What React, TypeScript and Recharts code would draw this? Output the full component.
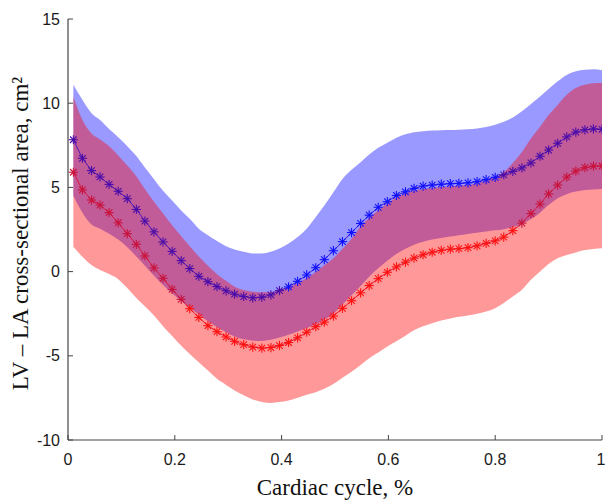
import React from 'react';
import { ComposedChart, Line, Area, XAxis, YAxis } from 'recharts';

const cycle = [0.010,0.027,0.044,0.060,0.077,0.094,0.111,0.128,0.144,0.161,0.178,0.195,0.212,0.228,0.245,0.262,0.279,0.296,0.312,0.329,0.346,0.363,0.380,0.396,0.413,0.430,0.447,0.464,0.480,0.497,0.514,0.531,0.548,0.564,0.581,0.598,0.615,0.632,0.648,0.665,0.682,0.699,0.716,0.732,0.749,0.766,0.783,0.800,0.816,0.833,0.850,0.867,0.884,0.900,0.917,0.934,0.951,0.968,0.984,1.000];

const blueMean = [7.83,6.73,6.0,5.62,5.18,4.77,4.33,3.69,3.0,2.36,1.76,1.2,0.65,0.18,-0.28,-0.6,-0.89,-1.14,-1.34,-1.48,-1.56,-1.52,-1.38,-1.13,-0.91,-0.58,-0.2,0.23,0.71,1.24,1.78,2.32,2.86,3.35,3.82,4.15,4.52,4.74,4.94,5.08,5.14,5.19,5.22,5.24,5.27,5.34,5.46,5.6,5.75,5.95,6.16,6.45,6.85,7.22,7.62,8.0,8.28,8.42,8.47,8.45];
const blueUpper = [11.1,10.2,9.4,9.0,8.47,7.98,7.45,6.86,6.18,5.49,4.8,4.22,3.63,3.14,2.55,2.16,1.82,1.51,1.31,1.18,1.08,1.08,1.18,1.37,1.67,2.06,2.55,3.24,3.92,4.71,5.5,6.05,6.5,6.95,7.35,7.65,7.95,8.15,8.28,8.34,8.38,8.4,8.41,8.43,8.45,8.5,8.58,8.72,8.9,9.15,9.52,9.95,10.4,10.85,11.3,11.68,11.89,11.98,12.01,11.96];
const blueLower = [4.5,3.5,2.8,2.55,2.25,1.9,1.45,0.9,0.35,-0.25,-0.8,-1.3,-1.75,-2.15,-2.55,-2.95,-3.3,-3.6,-3.85,-4.02,-4.1,-4.12,-4.05,-3.92,-3.75,-3.55,-3.35,-3.12,-2.85,-2.5,-1.95,-1.4,-0.85,-0.3,0.2,0.65,1.05,1.35,1.6,1.78,1.9,2.0,2.08,2.16,2.24,2.31,2.38,2.45,2.52,2.64,2.82,3.12,3.5,3.95,4.35,4.6,4.75,4.85,4.88,4.9];

const redMean = [5.90,4.85,4.25,3.95,3.50,2.90,2.25,1.62,0.93,0.22,-0.40,-1.06,-1.65,-2.20,-2.72,-3.21,-3.57,-3.88,-4.14,-4.34,-4.48,-4.54,-4.51,-4.39,-4.21,-3.93,-3.60,-3.27,-3.0,-2.64,-2.18,-1.73,-1.26,-0.83,-0.42,-0.04,0.28,0.56,0.80,1.00,1.15,1.26,1.33,1.36,1.42,1.53,1.68,1.83,2.05,2.43,2.88,3.44,4.01,4.61,5.14,5.61,5.97,6.17,6.26,6.27];
const redUpper = [10.4,9.0,8.2,7.85,7.45,6.9,6.3,5.65,4.9,4.15,3.45,2.75,2.1,1.5,0.9,0.35,-0.15,-0.55,-0.9,-1.1,-1.2,-1.22,-1.22,-1.1,-0.92,-0.68,-0.38,-0.02,0.38,0.8,1.35,1.95,2.7,3.2,3.65,4.05,4.4,4.65,4.8,4.9,4.97,5.02,5.07,5.1,5.15,5.25,5.4,5.6,5.9,6.45,7.1,7.9,8.6,9.3,9.9,10.5,10.9,11.1,11.18,11.2];
const redLower = [1.47,0.88,0.39,0.1,-0.14,-0.45,-0.98,-1.57,-2.06,-2.61,-3.24,-3.82,-4.41,-4.9,-5.39,-5.88,-6.37,-6.73,-7.06,-7.35,-7.59,-7.75,-7.8,-7.75,-7.65,-7.49,-7.31,-7.16,-6.96,-6.68,-6.3,-5.95,-5.55,-5.15,-4.8,-4.45,-4.14,-3.81,-3.49,-3.25,-3.06,-2.9,-2.78,-2.68,-2.6,-2.5,-2.37,-2.17,-1.87,-1.48,-1.08,-0.49,0.0,0.45,0.79,0.99,1.14,1.28,1.34,1.38];

const xTicks = [0, 0.2, 0.4, 0.6, 0.8, 1];
const yTicks = [-10, -5, 0, 5, 10, 15];

const xTitle = 'Cardiac cycle, %';
const yTitle = 'LV \u2013 LA cross-sectional area, cm\u00b2';

const data = cycle.map((x, i) => ({
  x,
  bm: blueMean[i],
  br: [blueLower[i], blueUpper[i]],
  rm: redMean[i],
  rr: [redLower[i], redUpper[i]],
}));

const AXIS = '#454545';
const tickStyle = { fill: '#1a1a1a', fontSize: 16, fontFamily: '"Liberation Sans", Arial, sans-serif' };
const titleFont = '"Liberation Serif", "Times New Roman", serif';

// Markers sit underneath the translucent bands in the original; their visible
// colour therefore depends on which band covers them.
const blueDot = (props: any) => {
  const { cx, cy, index, payload } = props;
  if (cx == null || cy == null) return <g key={`b${index}`} />;
  const covered = payload && payload.rr && payload.bm < payload.rr[1] && payload.bm > payload.rr[0];
  return starShape(cx, cy, covered ? '#4a0ca8' : '#1010ff', `b${index}`);
};

const redDot = (props: any) => {
  const { cx, cy, index, payload } = props;
  if (cx == null || cy == null) return <g key={`r${index}`} />;
  const covered = payload && payload.br && payload.rm > payload.br[0] && payload.rm < payload.br[1];
  return starShape(cx, cy, covered ? '#c8123c' : '#ff1010', `r${index}`);
};

function starShape(cx: number, cy: number, color: string, key: string) {
  const r = 4.6;
  const d = r * 0.7071;
  return (
    <g key={key} stroke={color} strokeWidth={1.1}>
      <line x1={cx - r} y1={cy} x2={cx + r} y2={cy} />
      <line x1={cx} y1={cy - r} x2={cx} y2={cy + r} />
      <line x1={cx - d} y1={cy - d} x2={cx + d} y2={cy + d} />
      <line x1={cx - d} y1={cy + d} x2={cx + d} y2={cy - d} />
    </g>
  );
}

const XLab = (props: any) => {
  const vb = props.viewBox || { x: 68, y: 440, width: 534, height: 62 };
  return (
    <text x={vb.x + vb.width / 2} y={vb.y + 55} textAnchor="middle" fontFamily={titleFont} fontSize={23} fill="#111">
      {xTitle}
    </text>
  );
};

const YLab = (props: any) => {
  const vb = props.viewBox || { x: 0, y: 19, width: 68, height: 421 };
  const cx = 28;
  const cy = vb.y + vb.height / 2 + 4;
  return (
    <text x={cx} y={cy} transform={`rotate(-90 ${cx} ${cy})`} textAnchor="middle" fontFamily={titleFont} fontSize={23} fill="#111">
      {yTitle}
    </text>
  );
};

export default function App() {
  return (
    <div style={{ position: 'absolute', left: 0, top: 0, width: 605, height: 502, background: '#fff' }}>
      <ComposedChart width={605} height={502} data={data} margin={{ top: 19, right: 3, bottom: 0, left: 0 }}>
        <XAxis
          dataKey="x"
          type="number"
          domain={[0, 1]}
          ticks={xTicks}
          allowDataOverflow
          height={62}
          tickSize={-5}
          tickMargin={19}
          axisLine={{ stroke: AXIS, strokeWidth: 1.2 }}
          tickLine={{ stroke: AXIS }}
          tick={tickStyle}
          label={XLab}
        />
        <XAxis
          xAxisId="top"
          orientation="top"
          dataKey="x"
          type="number"
          domain={[0, 1]}
          ticks={xTicks}
          allowDataOverflow
          height={0}
          tickSize={-5}
          tick={false}
          axisLine={{ stroke: AXIS, strokeWidth: 1.2 }}
          tickLine={{ stroke: AXIS }}
        />
        <YAxis
          type="number"
          domain={[-10, 15]}
          ticks={yTicks}
          allowDataOverflow
          width={68}
          tickSize={-5}
          tickMargin={13}
          axisLine={{ stroke: AXIS, strokeWidth: 1.2 }}
          tickLine={{ stroke: AXIS }}
          tick={tickStyle}
          label={YLab}
        />
        <YAxis
          yAxisId="right"
          orientation="right"
          type="number"
          domain={[-10, 15]}
          ticks={yTicks}
          allowDataOverflow
          width={0}
          tickSize={-5}
          tick={false}
          axisLine={{ stroke: AXIS, strokeWidth: 1.2 }}
          tickLine={{ stroke: AXIS }}
        />
        <Area dataKey="br" type="monotone" stroke="none" fill="#0000ff" fillOpacity={0.4} activeDot={false} isAnimationActive={false} />
        <Area dataKey="rr" type="monotone" stroke="none" fill="#ff0000" fillOpacity={0.4} activeDot={false} isAnimationActive={false} />
        <Line dataKey="bm" type="linear" stroke="#3a10c0" strokeWidth={0.9} dot={blueDot} activeDot={false} isAnimationActive={false} />
        <Line dataKey="rm" type="linear" stroke="#d8102e" strokeWidth={0.9} dot={redDot} activeDot={false} isAnimationActive={false} />
      </ComposedChart>
    </div>
  );
}
